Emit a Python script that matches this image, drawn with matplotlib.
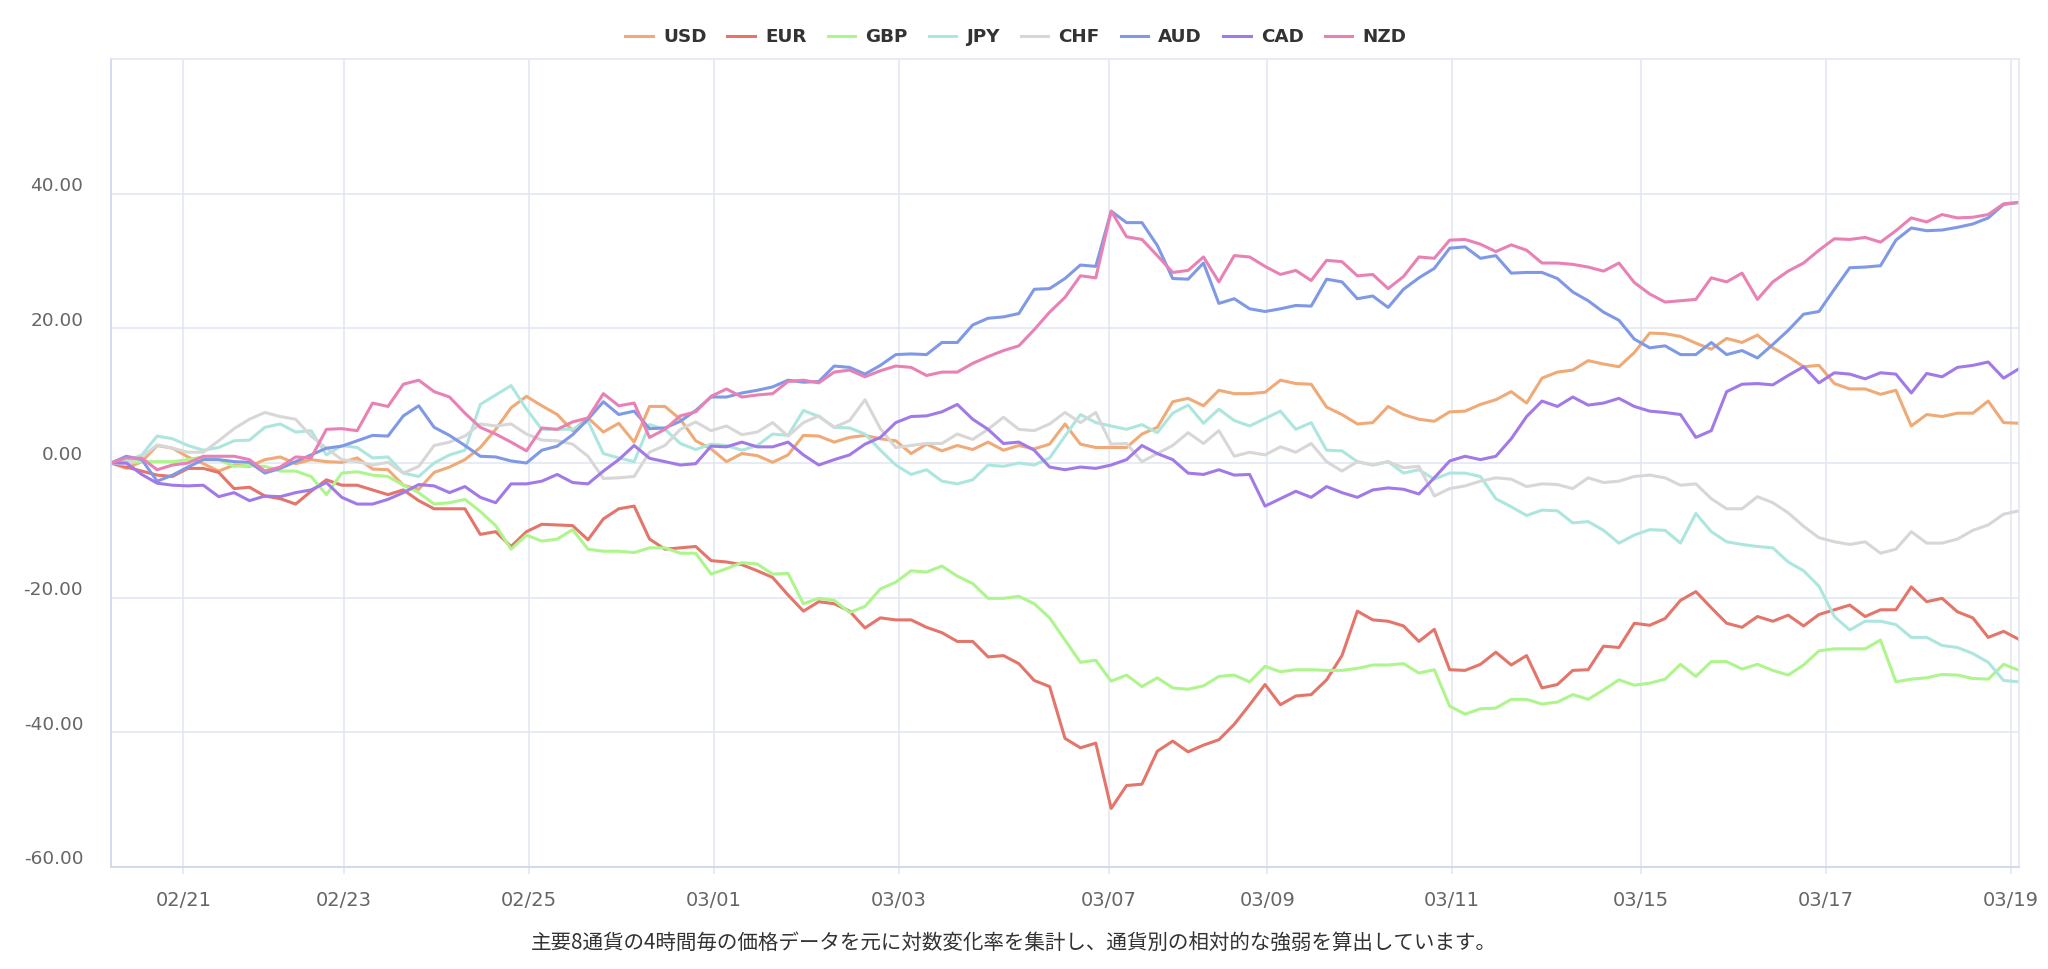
import matplotlib.pyplot as plt
from matplotlib import transforms

# Step 1: Data (4-hour log-change strength index per currency)
currencies = ['USD', 'EUR', 'GBP', 'JPY', 'CHF', 'AUD', 'CAD', 'NZD']

usd = [0, -0.8, 0.2, 2.6, 2.2, 0.9, -0.1, -1.2, -0.3, -0.5,
       0.5, 0.9, -0.1, 0.5, 0.2, 0.1, 0.75, -0.9, -1.0, -3.3,
       -3.9, -1.4, -0.6, 0.5, 2.3, 5.0, 8.2, 9.9, 8.5, 7.2,
       4.8, 6.7, 4.6, 5.9, 3.1, 8.4, 8.4, 6.5, 3.3, 2.1,
       0.2, 1.4, 1.1, 0.1, 1.2, 4.1, 4.0, 3.1, 3.8, 4.1,
       3.6, 3.3, 1.4, 2.8, 1.8, 2.6, 2.0, 3.1, 1.9, 2.6,
       2.1, 2.8, 5.8, 2.8, 2.3, 2.3, 2.3, 4.3, 5.3, 9.1,
       9.6, 8.5, 10.8, 10.3, 10.3, 10.5, 12.3, 11.8, 11.7, 8.3,
       7.2, 5.8, 6.0, 8.4, 7.2, 6.5, 6.2, 7.6, 7.7, 8.7,
       9.4, 10.6, 8.9, 12.6, 13.5, 13.8, 15.2, 14.7, 14.3, 16.4,
       19.3, 19.2, 18.8, 17.8, 16.9, 18.5, 17.9, 19.0, 17.1, 15.8,
       14.3, 14.5, 11.8, 11.0, 11.0, 10.2, 10.8, 5.5, 7.2, 6.9,
       7.4, 7.4, 9.2, 6.0, 5.9]

eur = [0, -0.6, -1.2, -1.8, -2.0, -0.8, -0.8, -1.4, -3.8, -3.6,
       -4.9, -5.3, -6.1, -4.2, -2.5, -3.3, -3.3, -4.0, -4.7, -4.0,
       -5.6, -6.8, -6.8, -6.8, -10.6, -10.2, -12.4, -10.2, -9.1, -9.2,
       -9.3, -11.4, -8.3, -6.8, -6.4, -11.3, -12.8, -12.6, -12.4, -14.5,
       -14.7, -15.1, -16.0, -17.0, -19.6, -22.0, -20.6, -20.9, -22.0, -24.5,
       -23.0, -23.3, -23.3, -24.4, -25.2, -26.5, -26.5, -28.8, -28.6, -29.8,
       -32.3, -33.2, -40.9, -42.3, -41.6, -51.3, -47.9, -47.7, -42.8, -41.3,
       -42.9, -41.9, -41.1, -38.8, -35.9, -32.9, -35.9, -34.6, -34.4, -32.2,
       -28.6, -22.0, -23.3, -23.5, -24.2, -26.5, -24.7, -30.7, -30.8, -29.9,
       -28.1, -30.0, -28.6, -33.4, -32.9, -30.8, -30.7, -27.2, -27.4, -23.8,
       -24.1, -23.1, -20.4, -19.1, -21.5, -23.8, -24.4, -22.8, -23.5, -22.6,
       -24.2, -22.5, -21.8, -21.1, -22.8, -21.8, -21.8, -18.4, -20.6, -20.1,
       -22.1, -23.0, -25.9, -25.0, -26.2]

gbp = [0, 0, 0.2, 0.2, 0.2, 0.5, 0.9, 0.5, -0.5, -0.4,
       -0.5, -1.2, -1.2, -2.0, -4.7, -1.5, -1.3, -1.8, -2.0, -3.3,
       -4.4, -6.1, -5.9, -5.4, -7.2, -9.3, -12.8, -10.7, -11.6, -11.3,
       -9.9, -12.8, -13.1, -13.1, -13.3, -12.6, -12.6, -13.4, -13.4, -16.5,
       -15.7, -14.8, -15.0, -16.5, -16.4, -20.9, -20.1, -20.4, -22.2, -21.3,
       -18.7, -17.7, -16.0, -16.2, -15.3, -16.8, -17.9, -20.1, -20.1, -19.8,
       -20.9, -23.0, -26.3, -29.6, -29.3, -32.4, -31.5, -33.2, -31.9, -33.4,
       -33.6, -33.1, -31.7, -31.5, -32.5, -30.2, -31.0, -30.7, -30.7, -30.8,
       -30.8, -30.5, -30.0, -30.0, -29.8, -31.2, -30.7, -36.1, -37.3, -36.5,
       -36.4, -35.1, -35.1, -35.8, -35.5, -34.4, -35.1, -33.7, -32.2, -33.0,
       -32.7, -32.1, -29.9, -31.7, -29.5, -29.5, -30.6, -29.9, -30.8, -31.5,
       -30.0, -27.9, -27.6, -27.6, -27.6, -26.3, -32.5, -32.1, -31.9, -31.4,
       -31.5, -32.0, -32.1, -29.9, -30.8]

jpy = [0, 0.2, 1.2, 4.0, 3.6, 2.6, 1.9, 2.3, 3.3, 3.4,
       5.3, 5.8, 4.6, 4.8, 1.2, 2.6, 2.3, 0.75, 0.9, -1.5,
       -2.0, 0, 1.2, 1.9, 8.7, 10.1, 11.5, 8.0, 5.0, 5.0,
       5.0, 6.2, 1.4, 0.75, 0.2, 5.7, 5.0, 2.9, 2.0, 2.8,
       2.6, 1.9, 2.6, 4.3, 4.1, 7.8, 6.9, 5.3, 5.2, 4.3,
       1.9, -0.3, -1.7, -1.0, -2.7, -3.1, -2.5, -0.3, -0.5, 0,
       -0.3, 0.75, 4.0, 7.2, 6.0, 5.5, 5.0, 5.7, 4.5, 7.4,
       8.6, 5.9, 8.0, 6.3, 5.5, 6.6, 7.7, 5.0, 6.0, 1.9,
       1.8, 0.2, -0.3, 0.2, -1.5, -1.0, -2.4, -1.5, -1.5, -2.0,
       -5.3, -6.5, -7.8, -7.0, -7.1, -8.9, -8.7, -10.0, -11.9, -10.7,
       -9.9, -10.0, -11.9, -7.5, -10.2, -11.7, -12.1, -12.4, -12.6, -14.7,
       -16.0, -18.3, -22.8, -24.8, -23.5, -23.5, -24.0, -25.9, -25.9, -27.1,
       -27.4, -28.3, -29.6, -32.3, -32.5]

chf = [0, -0.2, 0.9, 2.7, 2.2, 1.6, 1.6, 3.3, 5.1, 6.5,
       7.5, 6.9, 6.5, 4.0, 2.2, 0.5, 0.2, -0.3, 0.1, -1.5,
       -0.5, 2.6, 3.1, 4.0, 5.8, 5.5, 5.8, 4.3, 3.4, 3.3,
       2.8, 1.0, -2.3, -2.2, -2.0, 1.6, 2.6, 5.0, 6.1, 4.8,
       5.5, 4.2, 4.6, 6.0, 4.0, 6.0, 7.0, 5.3, 6.3, 9.4,
       5.1, 2.3, 2.6, 2.9, 2.9, 4.3, 3.5, 5.0, 6.8, 5.0,
       4.8, 5.8, 7.5, 6.0, 7.5, 2.8, 2.9, 0.2, 1.4, 2.6,
       4.5, 2.9, 4.8, 1.0, 1.6, 1.2, 2.4, 1.6, 2.9, 0.2,
       -1.2, 0.2, -0.3, 0.2, -0.7, -0.5, -4.9, -3.8, -3.4, -2.7,
       -2.2, -2.4, -3.5, -3.1, -3.2, -3.8, -2.2, -2.9, -2.7, -2.0,
       -1.8, -2.2, -3.3, -3.1, -5.3, -6.8, -6.8, -5.0, -5.9, -7.4,
       -9.4, -11.1, -11.7, -12.1, -11.7, -13.4, -12.8, -10.2, -11.9, -11.9,
       -11.3, -10.0, -9.2, -7.6, -7.1]

aud = [0, 1.0, 0.5, -2.7, -1.8, -0.6, 0.5, 0.5, 0.2, 0.1,
       -1.5, -0.8, 0.2, 1.2, 2.2, 2.5, 3.3, 4.1, 4.0, 7.0,
       8.5, 5.3, 4.1, 2.6, 1.0, 0.9, 0.3, 0, 1.9, 2.5,
       4.2, 6.5, 9.1, 7.2, 7.7, 5.1, 5.2, 6.2, 7.8, 9.8,
       9.8, 10.4, 10.8, 11.3, 12.3, 12.0, 12.1, 14.4, 14.2, 13.2,
       14.5, 16.1, 16.2, 16.1, 17.9, 17.9, 20.5, 21.5, 21.7, 22.2,
       25.8, 25.9, 27.4, 29.4, 29.2, 37.4, 35.7, 35.7, 32.3, 27.4,
       27.3, 29.7, 23.7, 24.4, 22.9, 22.5, 22.9, 23.4, 23.3, 27.3,
       26.9, 24.4, 24.8, 23.1, 25.8, 27.5, 28.9, 31.9, 32.1, 30.4,
       30.8, 28.2, 28.3, 28.3, 27.4, 25.4, 24.1, 22.4, 21.2, 18.4,
       17.1, 17.4, 16.1, 16.1, 17.9, 16.1, 16.7, 15.6, 17.6, 19.7,
       22.1, 22.5, 25.8, 29.0, 29.1, 29.3, 33.1, 34.9, 34.5, 34.6,
       35.0, 35.5, 36.4, 38.4, 38.7]

cad = [0, 0, -1.7, -3.0, -3.3, -3.4, -3.3, -5.0, -4.4, -5.6,
       -4.9, -5.0, -4.4, -4.0, -2.9, -5.1, -6.1, -6.1, -5.4, -4.4,
       -3.2, -3.4, -4.4, -3.5, -5.1, -5.9, -3.1, -3.1, -2.7, -1.7,
       -2.9, -3.1, -1.2, 0.5, 2.6, 0.7, 0.2, -0.3, -0.1, 2.5,
       2.4, 3.1, 2.4, 2.4, 3.1, 1.2, -0.3, 0.5, 1.2, 2.8,
       3.8, 6.0, 6.9, 7.0, 7.6, 8.7, 6.5, 5.0, 2.9, 3.1,
       1.9, -0.6, -1.0, -0.6, -0.8, -0.3, 0.5, 2.6, 1.4, 0.5,
       -1.5, -1.7, -1.0, -1.8, -1.7, -6.4, -5.3, -4.2, -5.1, -3.5,
       -4.4, -5.1, -4.0, -3.7, -3.9, -4.6, -2.2, 0.3, 1.0, 0.5,
       1.0, 3.6, 6.9, 9.2, 8.4, 9.8, 8.6, 8.9, 9.6, 8.4,
       7.7, 7.5, 7.2, 3.8, 4.8, 10.6, 11.7, 11.8, 11.6, 13.0,
       14.3, 11.9, 13.4, 13.2, 12.5, 13.4, 13.2, 10.4, 13.3, 12.8,
       14.2, 14.5, 15.0, 12.6, 14.0]

nzd = [0, 0.75, 0.7, -1.0, -0.3, 0, 1.0, 1.0, 1.0, 0.5,
       -1.2, -0.6, 0.9, 0.75, 5.0, 5.1, 4.8, 8.9, 8.4, 11.7,
       12.3, 10.6, 9.8, 7.4, 5.3, 4.3, 3.1, 1.8, 5.2, 5.0,
       6.1, 6.7, 10.3, 8.5, 8.9, 3.8, 5.0, 7.0, 7.6, 9.9,
       11.0, 9.8, 10.1, 10.3, 12.1, 12.3, 11.9, 13.5, 13.8, 12.8,
       13.7, 14.4, 14.2, 13.0, 13.5, 13.5, 14.8, 15.8, 16.7, 17.4,
       19.8, 22.4, 24.6, 27.8, 27.5, 37.4, 33.6, 33.2, 30.8, 28.3,
       28.6, 30.6, 26.9, 30.8, 30.6, 29.2, 28.0, 28.6, 27.1, 30.1,
       29.9, 27.8, 28.0, 25.9, 27.7, 30.6, 30.4, 33.1, 33.2, 32.5,
       31.4, 32.4, 31.6, 29.7, 29.7, 29.5, 29.1, 28.5, 29.7, 26.8,
       25.1, 23.9, 24.1, 24.3, 27.5, 26.9, 28.2, 24.3, 26.9, 28.5,
       29.7, 31.6, 33.3, 33.2, 33.5, 32.8, 34.5, 36.4, 35.8, 36.9,
       36.4, 36.5, 36.9, 38.5, 38.7]

series = [usd, eur, gbp, jpy, chf, aud, cad, nzd]

# x-axis date labels (positions are in bar units, 4h bars, weekends skipped)
tick_labels = ['02/21', '02/23', '02/25', '03/01', '03/03', '03/07',
               '03/09', '03/11', '03/15', '03/17', '03/19']
tick_pos = [4.70, 15.12, 27.15, 39.16, 51.19, 64.84,
            75.16, 87.16, 99.41, 111.46, 123.47]
y_ticks = [-60, -40, -20, 0, 20, 40]

caption = "主要8通貨の4時間毎の価格データを元に対数変化率を集計し、通貨別の相対的な強弱を算出しています。"

colors = ['#EFAA77', '#E3756A', '#ADF58C', '#ADE6DE',
          '#D7D7D7', '#8099E6', '#A27AE8', '#E882B4']

# Step 2: Figure and plot area
W, H = 2048, 969
fig = plt.figure(figsize=(W / 100, H / 100), dpi=100)
ax = fig.add_axes([111 / W, 1 - 867 / H, (2019 - 111) / W, (867 - 59) / H])

x = list(range(len(usd)))
for name, vals, c in zip(currencies, series, colors):
    ax.plot(x, vals, color=c, lw=2.2, label=name, solid_joinstyle='round')

ax.set_xlim(0, len(usd) - 1)
ax.set_ylim(-60, 60)

# Step 3: Axes styling
ax.set_yticks(y_ticks)
ax.set_yticklabels([f"{v:.2f}" for v in y_ticks])
ax.set_xticks(tick_pos)
ax.set_xticklabels(tick_labels)

ax.grid(True, color='#E0E6F1', lw=1.1)
ax.set_axisbelow(True)
for side in ['left', 'bottom']:
    ax.spines[side].set_color('#CCD6EB')
    ax.spines[side].set_linewidth(1.2)
for side in ['top', 'right']:
    ax.spines[side].set_color('#E0E6F1')
    ax.spines[side].set_linewidth(1.1)

ax.tick_params(axis='y', length=0, pad=20, labelsize=13.3, labelcolor='#666666')
ax.tick_params(axis='x', length=5, width=1.1, color='#E0E6F1', pad=12,
               labelsize=14, labelcolor='#666666')

# y labels sit a bit above their grid lines
shift = transforms.ScaledTranslation(0, 7 / 72, fig.dpi_scale_trans)
for lab in ax.get_yticklabels():
    lab.set_transform(lab.get_transform() + shift)

# Step 4: Legend and caption
fig.legend(loc='center', bbox_to_anchor=(0.496, 1 - 37 / H), ncol=8, frameon=False,
           prop={'weight': 'bold', 'size': 13.2}, labelcolor='#333333',
           handlelength=1.5, handletextpad=0.55, columnspacing=1.15)

fig.text(0.495, 1 - 943 / H, caption, ha='center', va='center', fontsize=14.8,
         color='#333333', family=['Noto Sans CJK JP', 'DejaVu Sans'])

fig.savefig("out.png", dpi=100)
